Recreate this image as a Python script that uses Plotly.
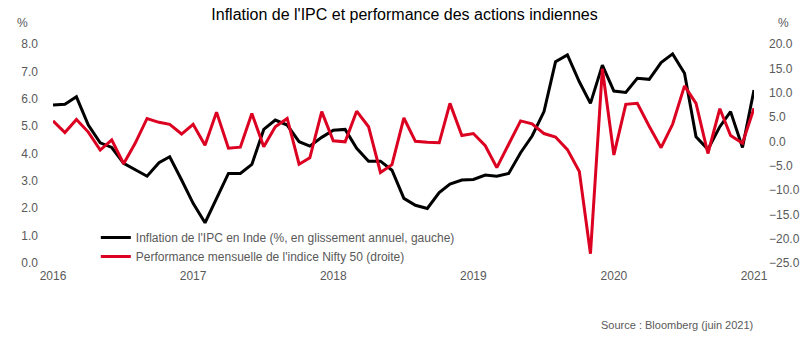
import plotly.graph_objects as go
import pandas as pd

# Monthly observations (May 2016 - May 2021)
months = pd.date_range("2016-05-01", periods=61, freq="MS")

cpi_inflation = [5.77, 5.80, 6.07, 5.04, 4.39, 4.22, 3.64, 3.42, 3.17, 3.66,
                 3.88, 3.03, 2.18, 1.47, 2.36, 3.27, 3.27, 3.60, 4.88, 5.22,
                 5.04, 4.43, 4.27, 4.59, 4.85, 4.88, 4.19, 3.72, 3.72, 3.39,
                 2.36, 2.11, 1.99, 2.57, 2.88, 3.03, 3.05, 3.21, 3.17, 3.27,
                 4.03, 4.64, 5.53, 7.35, 7.60, 6.62, 5.83, 7.23, 6.28, 6.23,
                 6.75, 6.71, 7.32, 7.64, 6.93, 4.61, 4.15, 4.98, 5.53, 4.22,
                 6.32]

nifty_monthly = [4.2, 1.8, 4.5, 1.9, -1.8, 0.3, -4.6, -0.4, 4.7, 3.9,
                 3.5, 1.5, 3.5, -0.8, 6.0, -1.4, -1.2, 5.7, -1.1, 3.0,
                 4.7, -4.7, -3.4, 6.1, 0.1, -0.1, 6.2, 3.0, -6.4, -4.8,
                 4.8, 0.0, -0.2, -0.3, 7.8, 1.2, 1.6, -0.9, -5.4, -0.6,
                 4.2, 3.6, 1.6, 0.9, -1.7, -6.2, -23.1, 14.9, -2.8, 7.6,
                 7.8, 3.1, -1.3, 3.5, 11.4, 7.8, -2.5, 6.7, 1.2, -0.4,
                 6.8]

tick_dates = [months[i] for i in range(0, 61, 12)]
tick_labels = ["2016", "2017", "2018", "2019", "2020", "2021"]

left_ticks = [0, 1, 2, 3, 4, 5, 6, 7, 8]
right_ticks = [-25, -20, -15, -10, -5, 0, 5, 10, 15, 20]

title_text = "Inflation de l'IPC et performance des actions indiennes"
name_cpi = "Inflation de l'IPC en Inde (%, en glissement annuel, gauche)"
name_nifty = "Performance mensuelle de l'indice Nifty 50 (droite)"
source_text = "Source : Bloomberg (juin 2021)"

FONT = "Arial, Liberation Sans, sans-serif"
GREY = "#595959"

fig = go.Figure()
fig.add_trace(go.Scatter(x=months, y=cpi_inflation, name=name_cpi, mode="lines",
                         line=dict(color="#000000", width=3), yaxis="y"))
fig.add_trace(go.Scatter(x=months, y=nifty_monthly, name=name_nifty, mode="lines",
                         line=dict(color="#DC0021", width=3), yaxis="y2"))

W, H = 812, 337
ml, mr, mt, mb = 53, 55, 44, 74

fig.update_layout(
    width=W, height=H,
    margin=dict(l=ml, r=mr, t=mt, b=mb, pad=0),
    paper_bgcolor="white", plot_bgcolor="white",
    font=dict(family=FONT, size=12, color=GREY),
    title=dict(text=title_text, x=404.5 / W, xanchor="center", y=1 - 14 / H, yanchor="middle",
               font=dict(family=FONT, size=16, color="#000000")),
    xaxis=dict(range=[months[0], months[-1]], tickvals=tick_dates, ticktext=tick_labels,
               showgrid=False, zeroline=False, showline=False, ticks="",
               ticklabelstandoff=4, tickfont=dict(size=12, color=GREY)),
    yaxis=dict(range=[0, 8], tickvals=left_ticks, tickformat=".1f",
               showgrid=False, zeroline=False, showline=False, ticks="",
               ticklabelstandoff=14, tickfont=dict(size=12, color=GREY)),
    yaxis2=dict(range=[-25, 20], tickvals=right_ticks, tickformat=".1f",
                overlaying="y", side="right",
                showgrid=False, zeroline=False, showline=False, ticks="",
                ticklabelstandoff=14, tickfont=dict(size=12, color=GREY)),
    legend=dict(x=(96 - ml) / (W - ml - mr), xanchor="left",
                y=(H - mb - 223) / (H - mt - mb), yanchor="top",
                bgcolor="rgba(0,0,0,0)", font=dict(size=12, color=GREY),
                tracegroupgap=0, itemwidth=30),
    showlegend=True,
)

fig.add_annotation(text="%", xref="paper", yref="paper", x=(22 - ml) / (W - ml - mr),
                   y=(H - mb - 23) / (H - mt - mb), xanchor="center", yanchor="middle",
                   showarrow=False, font=dict(size=12, color=GREY))
fig.add_annotation(text="%", xref="paper", yref="paper", x=(787 - ml) / (W - ml - mr),
                   y=(H - mb - 23) / (H - mt - mb), xanchor="center", yanchor="middle",
                   showarrow=False, font=dict(size=12, color=GREY))
fig.add_annotation(text=source_text, xref="paper", yref="paper", x=(758 - ml) / (W - ml - mr),
                   y=(H - mb - 325) / (H - mt - mb), xanchor="right", yanchor="middle",
                   showarrow=False, font=dict(size=11, color=GREY))

fig.write_html("out.html")
